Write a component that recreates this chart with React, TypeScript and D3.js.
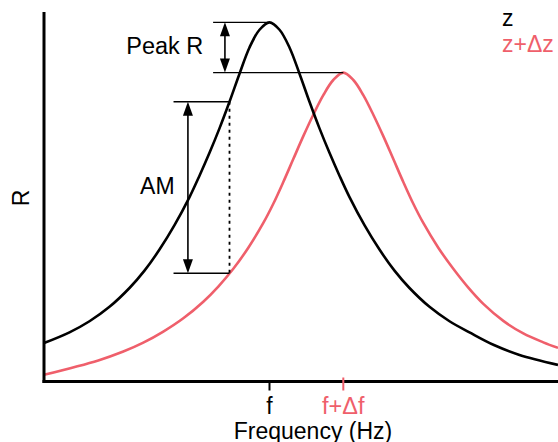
import React from "react";
import * as d3 from "d3";

// Frequency (arbitrary units) and R (arbitrary units)
const freqZ = [0, 4.96, 8.85, 12.74, 16.63, 19.55, 22.47, 25.39, 28.31, 30.25, 32.2, 34.14, 36.09, 38.04, 39.98, 41.93, 43.87, 45.82, 47.76, 49.71, 51.65, 53.6, 55.54, 57.49, 59.44, 62.35, 65.27, 68.19, 71.11, 75.0, 78.89, 82.78, 87.65, 92.51, 100];
const rZ = [10.4, 13.3, 16.3, 20.2, 25.3, 30.0, 35.7, 42.3, 49.9, 55.7, 61.9, 68.5, 75.7, 83.3, 90.4, 95.2, 97.2, 95.2, 90.4, 83.3, 75.7, 68.5, 61.9, 55.7, 49.9, 42.3, 35.7, 30.0, 25.3, 20.2, 16.3, 13.3, 9.8, 7.2, 4.5];

const freqZdz = [0, 10.56, 15.43, 19.32, 23.21, 27.1, 30.99, 33.91, 36.83, 39.75, 42.67, 44.61, 46.56, 48.5, 50.45, 52.39, 54.34, 56.28, 58.23, 60.18, 62.12, 64.07, 66.01, 67.96, 69.9, 71.85, 73.79, 76.71, 79.63, 82.55, 85.47, 89.36, 93.25, 97.14, 100];
const rZdz = [1.8, 5.7, 8.1, 10.5, 13.5, 17.1, 21.6, 25.7, 30.5, 36.2, 42.9, 48.1, 54.0, 60.2, 66.4, 72.2, 77.5, 81.6, 83.6, 81.6, 77.5, 72.2, 66.4, 60.2, 54.0, 48.1, 42.9, 36.2, 30.5, 25.4, 21.0, 16.4, 13.0, 10.6, 9.1];

const seriesNames = ["z", "z+\u0394z"];
const tickLabels = ["f", "f+\u0394f"];
const amFreq = 36.09;

const BLACK = "#000000";
const RED = "#ef5f6b";
const FONT = "'Liberation Sans', Arial, sans-serif";

function interp(xs: number[], ys: number[], v: number) {
  const i = Math.max(1, Math.min(xs.length - 1, d3.bisectLeft(xs, v)));
  const t = (v - xs[i - 1]) / (xs[i] - xs[i - 1]);
  return ys[i - 1] + t * (ys[i] - ys[i - 1]);
}

export default function App() {
  const W = 558, H = 442;
  const x = d3.scaleLinear().domain([0, 100]).range([44, 558]);
  const y = d3.scaleLinear().domain([0, 100]).range([381.5, 12]);

  const dz = freqZ.map((f, i) => [f, rZ[i]] as [number, number]);
  const ddz = freqZdz.map((f, i) => [f, rZdz[i]] as [number, number]);

  const line = d3
    .line<[number, number]>()
    .x((d) => x(d[0]))
    .y((d) => y(d[1]))
    .curve(d3.curveCatmullRom.alpha(0.5));

  const peakZ = dz.reduce((a, b) => (b[1] > a[1] ? b : a));
  const peakZdz = ddz.reduce((a, b) => (b[1] > a[1] ? b : a));
  const amTop = interp(freqZ, rZ, amFreq);
  const amBot = interp(freqZdz, rZdz, amFreq);

  const xAxisY = y(0);

  const arrow = (ax: number, y1: number, y2: number) => {
    const hl = 14, hw = 5;
    return (
      <g>
        <line x1={ax} x2={ax} y1={y1 + 4} y2={y2 - 4} stroke={BLACK} strokeWidth={1.6} />
        <path d={`M${ax},${y1} L${ax - hw},${y1 + hl} L${ax + hw},${y1 + hl} Z`} fill={BLACK} />
        <path d={`M${ax},${y2} L${ax - hw},${y2 - hl} L${ax + hw},${y2 - hl} Z`} fill={BLACK} />
      </g>
    );
  };

  return (
    <svg width={W} height={H} style={{ position: "absolute", left: 0, top: 0 }} fontFamily={FONT}>
      <rect width={W} height={H} fill="#fff" />
      {/* curves */}
      <path d={line(ddz) || ""} fill="none" stroke={RED} strokeWidth={2.6} />
      <path d={line(dz) || ""} fill="none" stroke={BLACK} strokeWidth={2.6} />

      {/* Peak R annotation */}
      <line x1={x(32.9)} x2={x(peakZ[0])} y1={y(peakZ[1])} y2={y(peakZ[1])} stroke={BLACK} strokeWidth={1.4} />
      <line x1={x(32.9)} x2={x(peakZdz[0])} y1={y(peakZdz[1])} y2={y(peakZdz[1])} stroke={BLACK} strokeWidth={1.4} />
      {arrow(x(35.2), y(peakZ[1]), y(peakZdz[1]))}
      <text x={x(16.0)} y={54} fontSize={23.5} fill={BLACK}>Peak R</text>

      {/* AM annotation */}
      <line x1={x(25.2)} x2={x(amFreq)} y1={y(amTop)} y2={y(amTop)} stroke={BLACK} strokeWidth={1.4} />
      <line x1={x(25.2)} x2={x(amFreq)} y1={y(amBot)} y2={y(amBot)} stroke={BLACK} strokeWidth={1.4} />
      <line x1={x(amFreq)} x2={x(amFreq)} y1={y(amTop)} y2={y(amBot)} stroke={BLACK} strokeWidth={1.8} strokeDasharray="3,4" />
      {arrow(x(28.0), y(amTop), y(amBot))}
      <text x={x(18.7)} y={194} fontSize={23} fill={BLACK}>AM</text>

      {/* axes */}
      <line x1={x(0)} x2={x(0)} y1={y(100)} y2={xAxisY + 1.5} stroke={BLACK} strokeWidth={3} />
      <line x1={x(0) - 1.5} x2={x(100)} y1={xAxisY} y2={xAxisY} stroke={BLACK} strokeWidth={3} />
      <line x1={x(peakZ[0])} x2={x(peakZ[0])} y1={xAxisY} y2={xAxisY + 9} stroke={BLACK} strokeWidth={2} />
      <line x1={x(peakZdz[0])} x2={x(peakZdz[0])} y1={xAxisY - 4} y2={xAxisY + 9} stroke={RED} strokeWidth={2} />
      <text x={x(peakZ[0])} y={414} fontSize={23} textAnchor="middle" fill={BLACK}>{tickLabels[0]}</text>
      <text x={x(peakZdz[0])} y={414} fontSize={23.5} textAnchor="middle" fill={RED}>{tickLabels[1]}</text>
      <text x={313} y={439} fontSize={23} textAnchor="middle" fill={BLACK}>Frequency (Hz)</text>
      <text transform="translate(29,198) rotate(-90)" fontSize={23} textAnchor="middle" fill={BLACK}>R</text>

      {/* legend */}
      <text x={502} y={26} fontSize={23} fill={BLACK}>{seriesNames[0]}</text>
      <text x={502} y={52} fontSize={23} fill={RED}>{seriesNames[1]}</text>
    </svg>
  );
}
